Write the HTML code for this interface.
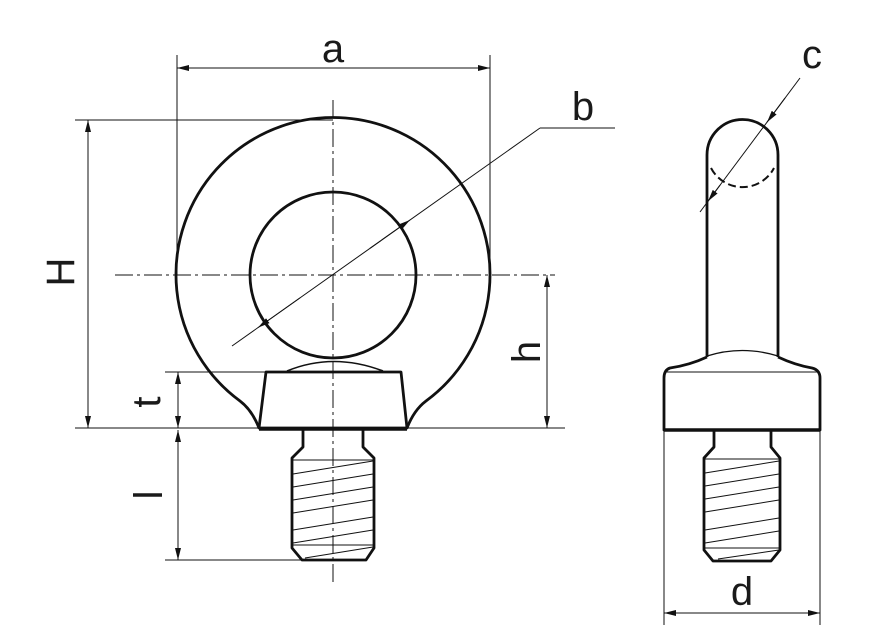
<!DOCTYPE html>
<html><head><meta charset="utf-8"><style>html,body{margin:0;padding:0;background:#fff}svg{display:block}text{font-family:"Liberation Sans",sans-serif;fill:#1a1a1a}</style></head>
<body>
<svg width="879" height="643" viewBox="0 0 879 643" xmlns="http://www.w3.org/2000/svg">
<defs>
<marker id="ar" viewBox="0 0 12 6" refX="12" refY="3" markerWidth="12" markerHeight="6" markerUnits="userSpaceOnUse" orient="auto-start-reverse"><path d="M0,0 L12,3 L0,6 z" fill="#111"/></marker>
</defs>
<g stroke="#111" fill="none" stroke-width="1">
<line x1="333" y1="100" x2="333" y2="585" stroke-dasharray="18,4,3,4"/>
<line x1="115" y1="275" x2="555" y2="275" stroke-dasharray="18,4,3,4"/>
<line x1="177" y1="55" x2="177" y2="275"/>
<line x1="490" y1="55" x2="490" y2="275"/>
<line x1="75" y1="120" x2="333" y2="120"/>
<line x1="75" y1="428" x2="565" y2="428"/>
<line x1="165" y1="372" x2="267" y2="372"/>
<line x1="165" y1="560" x2="302" y2="560"/>
<line x1="664" y1="430" x2="664" y2="625"/>
<line x1="820" y1="430" x2="820" y2="625"/>
<line x1="177" y1="68" x2="490" y2="68" marker-start="url(#ar)" marker-end="url(#ar)"/>
<line x1="88" y1="120" x2="88" y2="428" marker-start="url(#ar)" marker-end="url(#ar)"/>
<line x1="547" y1="275" x2="547" y2="428" marker-start="url(#ar)" marker-end="url(#ar)"/>
<line x1="178" y1="372" x2="178" y2="428" marker-start="url(#ar)" marker-end="url(#ar)"/>
<line x1="178" y1="430" x2="178" y2="560" marker-start="url(#ar)" marker-end="url(#ar)"/>
<line x1="664" y1="613" x2="820" y2="613" marker-start="url(#ar)" marker-end="url(#ar)"/>
<line x1="232" y1="346" x2="540" y2="128"/>
<line x1="540" y1="128" x2="615" y2="128"/>
<line x1="300" y1="297.9" x2="258" y2="327.6" marker-end="url(#ar)"/>
<line x1="370" y1="248.3" x2="410" y2="220" marker-end="url(#ar)"/>
<line x1="700" y1="212" x2="800" y2="78"/>
<line x1="785" y1="98.1" x2="767" y2="122.2" marker-end="url(#ar)"/>
<line x1="720" y1="185.2" x2="708" y2="201.3" marker-end="url(#ar)"/>
</g>
<g stroke="#111" fill="none" stroke-width="2.8" stroke-linejoin="round">
<path d="M259,428 Q252,410 240,401 A157 157 0 1 1 426,401 Q414,410 407,428"/>
<circle cx="333" cy="275" r="83"/>
<path d="M266,372 L401,372 L407,428 L259,428 Z"/>
<line x1="259" y1="429" x2="407" y2="429" stroke-width="3.5"/>
<path d="M287,371 Q333,352 383,371" stroke-width="1.6"/>
<path d="M303,430 L303,447 L292,458 L292,548 L302,560 L366,560 L374,548 L374,458 L363,447 L363,430"/>
</g>
<g stroke="#111" stroke-width="1" fill="none">
<line x1="293" y1="460" x2="373" y2="460"/>
<line x1="293" y1="545" x2="373" y2="545"/>
<line x1="293" y1="474" x2="373" y2="461"/><line x1="293" y1="487" x2="373" y2="474"/><line x1="293" y1="500" x2="373" y2="487"/><line x1="293" y1="513" x2="373" y2="500"/><line x1="293" y1="530" x2="373" y2="517"/><line x1="293" y1="543" x2="373" y2="530"/><line x1="305" y1="558" x2="373" y2="547"/>
</g>
<g stroke="#111" fill="none" stroke-width="2.8" stroke-linejoin="round">
<path d="M707,357 L707,155 A35.5 35.5 0 0 1 778,155 L778,357"/>
<path d="M711,168 A35.5 35.5 0 0 0 774,168" stroke-dasharray="8,4" stroke-width="2"/>
<path d="M707,357 Q690,365 670,368 Q664,370 664,378 L664,430 L820,430 L820,378 Q820,370 812,368 Q795,365 778,357"/>
<line x1="664" y1="430" x2="820" y2="430" stroke-width="3.5"/>
<path d="M714,431 L714,447 L704,458 L704,550 L713,561 L771,561 L780,550 L780,458 L771,447 L771,431"/>
</g>
<g stroke="#111" stroke-width="1" fill="none">
<line x1="664" y1="372" x2="820" y2="372"/>
<path d="M707,356 Q742,345 778,356" stroke-width="1.3"/>
<line x1="705" y1="459" x2="779" y2="459"/>
<line x1="705" y1="548" x2="779" y2="548"/>
<line x1="705" y1="473" x2="779" y2="461"/><line x1="705" y1="486" x2="779" y2="474"/><line x1="705" y1="499" x2="779" y2="487"/><line x1="705" y1="512" x2="779" y2="500"/><line x1="705" y1="530" x2="779" y2="518"/><line x1="705" y1="543" x2="779" y2="531"/><line x1="718" y1="559" x2="779" y2="550"/>
</g>
<text x="333" y="62" font-size="40" text-anchor="middle">a</text>
<text x="583" y="120" font-size="40" text-anchor="middle">b</text>
<text x="812" y="68" font-size="40" text-anchor="middle">c</text>
<text x="742" y="605" font-size="40" text-anchor="middle">d</text>
<text transform="translate(74,272) rotate(-90)" font-size="40" text-anchor="middle">H</text>
<text transform="translate(540,352) rotate(-90)" font-size="40" text-anchor="middle">h</text>
<text transform="translate(160,402) rotate(-90)" font-size="40" text-anchor="middle">t</text>
<text transform="translate(162,495) rotate(-90)" font-size="40" text-anchor="middle">l</text>
</svg>
</body></html>
